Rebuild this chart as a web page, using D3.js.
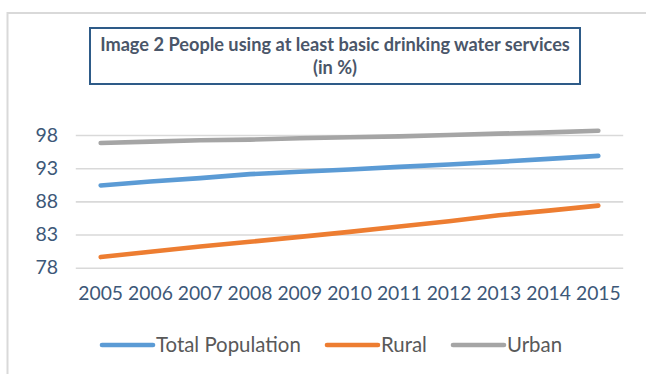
<!DOCTYPE html>
<html>
<head>
<meta charset="utf-8">
<script src="https://cdn.jsdelivr.net/npm/d3@7"></script>
<style>
  html, body { margin: 0; padding: 0; background: #fff; }
  svg { display: block; }
</style>
</head>
<body>
<svg id="chart" width="646" height="374"></svg>
<script>
// Share of people using at least basic drinking water services, 2005-2015
const years = ["2005", "2006", "2007", "2008", "2009", "2010", "2011", "2012", "2013", "2014", "2015"];
const totalPopulation = [90.4, 91.0, 91.5, 92.1, 92.45, 92.8, 93.2, 93.55, 93.95, 94.4, 94.85];
const rural = [79.6, 80.4, 81.2, 81.9, 82.65, 83.4, 84.2, 85.0, 85.9, 86.6, 87.35];
const urban = [96.8, 97.0, 97.2, 97.3, 97.5, 97.65, 97.8, 98.0, 98.2, 98.4, 98.65];
const yTicks = [78, 83, 88, 93, 98];
const seriesNames = ["Total Population", "Rural", "Urban"];
const seriesColors = ["#5b9bd5", "#ed7d31", "#a5a5a5"];
const titleLines = ["Image 2 People using at least basic drinking water services", "(in %)"];

const series = [totalPopulation, rural, urban].map((values, i) => ({
  name: seriesNames[i], color: seriesColors[i], values
}));

const svg = d3.select("#chart");
const font = "Lato, 'Open Sans', sans-serif";

// outer chart frame (runs off the right and bottom edges)
svg.append("path")
  .attr("d", "M7.5,380 V13 H650")
  .attr("fill", "none")
  .attr("stroke", "#d9d9d9")
  .attr("stroke-width", 2);

// scales
const x = d3.scaleBand().domain(years).range([75.8, 623.2]);
const y = d3.scaleLinear().domain([78, 98]).range([267.7, 135]);

// gridlines
const grid = svg.append("g")
  .attr("transform", "translate(75.8,0)")
  .call(d3.axisLeft(y).tickValues(yTicks).tickSize(-(623.2 - 75.8)).tickFormat(""));
grid.select(".domain").remove();
grid.selectAll("line").attr("stroke", "#d9d9d9").attr("stroke-width", 1.6);

// y axis labels
const yAxis = svg.append("g")
  .attr("transform", "translate(58,0)")
  .call(d3.axisLeft(y).tickValues(yTicks).tickSize(0).tickPadding(0));
yAxis.select(".domain").remove();
yAxis.selectAll("text")
  .attr("font-family", font)
  .attr("font-size", 19.5)
  .attr("fill", "#3d5878");

// x axis labels
const xAxis = svg.append("g")
  .attr("transform", "translate(0,286)")
  .call(d3.axisBottom(x).tickSize(0).tickPadding(0));
xAxis.select(".domain").remove();
xAxis.selectAll("text")
  .attr("font-family", font)
  .attr("font-size", 19.3)
  .attr("fill", "#3d5878");

// lines
const line = d3.line()
  .x((d, i) => x(years[i]) + x.bandwidth() / 2)
  .y(d => y(d));

svg.append("g").selectAll("path")
  .data(series)
  .join("path")
  .attr("d", d => line(d.values))
  .attr("fill", "none")
  .attr("stroke", d => d.color)
  .attr("stroke-width", 4.6)
  .attr("stroke-linecap", "round")
  .attr("stroke-linejoin", "round");

// title box
const tg = svg.append("g");
tg.append("rect")
  .attr("x", 90).attr("y", 28)
  .attr("width", 490).attr("height", 56)
  .attr("fill", "#fff")
  .attr("stroke", "#2e5b88")
  .attr("stroke-width", 2);
tg.selectAll("text")
  .data(titleLines)
  .join("text")
  .attr("x", 335)
  .attr("y", (d, i) => 50.5 + i * 23)
  .attr("text-anchor", "middle")
  .attr("font-family", font)
  .attr("font-weight", "bold")
  .attr("font-size", 18.2)
  .attr("fill", "#4a5669")
  .text(d => d);

// legend
const legendX = [102, 327, 453];
const lg = svg.append("g").selectAll("g")
  .data(series)
  .join("g")
  .attr("transform", (d, i) => `translate(${legendX[i]},345)`);
lg.append("line")
  .attr("x1", 0).attr("x2", 51)
  .attr("stroke", d => d.color)
  .attr("stroke-width", 4.6)
  .attr("stroke-linecap", "round");
lg.append("text")
  .attr("x", 54)
  .attr("dy", "0.35em")
  .attr("font-family", font)
  .attr("font-size", 20.4)
  .attr("fill", "#595959")
  .text(d => d.name);
</script>
</body>
</html>
